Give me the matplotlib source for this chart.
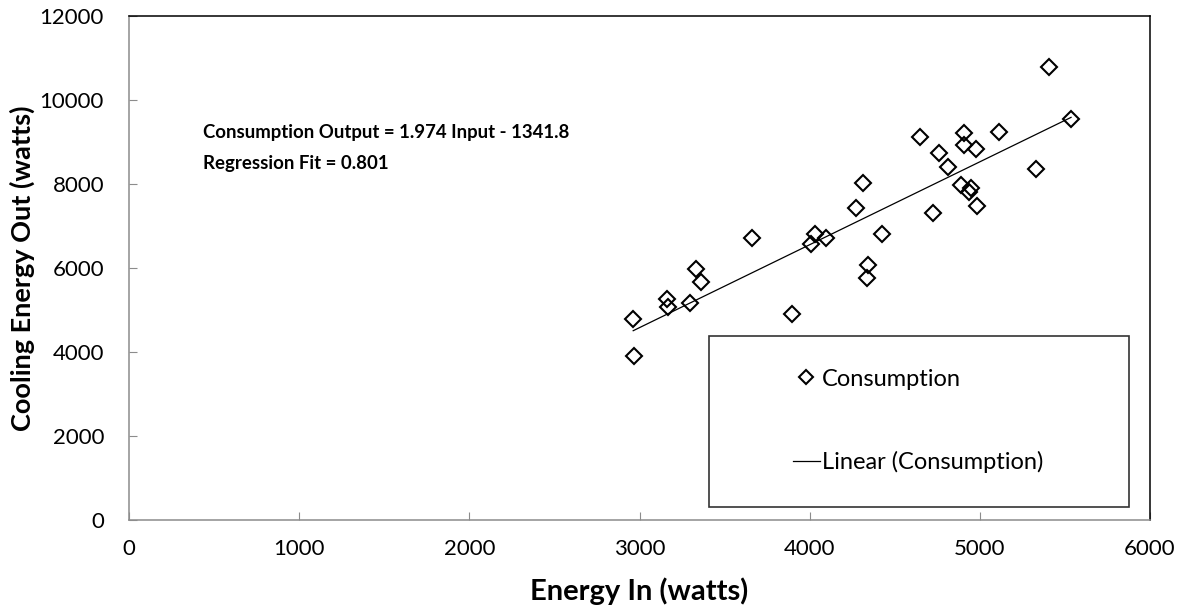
import matplotlib
matplotlib.use("Agg")
import matplotlib.pyplot as plt
from matplotlib.patches import Rectangle

plt.rcParams['font.family'] = ['Lato', 'DejaVu Sans']

# measured energy in / cooling energy out (watts)
energy_in = [2963, 2968, 3163, 3165, 3297, 3332, 3360, 3659, 3894, 4031,
             4006, 4096, 4315, 4272, 4345, 4339, 4425, 5408, 5536, 4648,
             4907, 4909, 4977, 5114, 4762, 4815, 5330, 4887, 4934, 4950,
             4985, 4726]
cooling_out = [4779, 3905, 5255, 5079, 5160, 5976, 5660, 6721, 4898, 6802,
               6564, 6707, 8017, 7436, 6071, 5755, 6802, 10779, 9540, 9126,
               9221, 8929, 8826, 9245, 8731, 8398, 8357, 7976, 7817, 7900,
               7483, 7317]

# linear trendline coefficients
slope = 1.974
intercept = -1341.8
r2 = 0.801

xticks = [0, 1000, 2000, 3000, 4000, 5000, 6000]
yticks = [0, 2000, 4000, 6000, 8000, 10000, 12000]

fig = plt.figure(figsize=(11.77, 6.09), dpi=100)
ax = fig.add_axes([129/1177, 89/609, 1021/1177, 504/609])

ax.plot(energy_in, cooling_out, linestyle='none', marker='D', markersize=8.5,
        markerfacecolor='none', markeredgecolor='black', markeredgewidth=1.5,
        label='Consumption', zorder=3)

x_lo, x_hi = min(energy_in), max(energy_in)
ax.plot([x_lo, x_hi], [slope*x_lo + intercept, slope*x_hi + intercept],
        color='black', linewidth=0.9, label='Linear (Consumption)', zorder=2)

ax.set_xlim(0, 6000)
ax.set_ylim(0, 12000)
ax.set_xticks(xticks)
ax.set_yticks(yticks)
ax.tick_params(direction='in', length=6, color='#8c8c8c', labelsize=16)
ax.tick_params(axis='x', pad=14)
ax.tick_params(axis='y', pad=18)

for side in ['left', 'bottom']:
    ax.spines[side].set_color('#8c8c8c')
    ax.spines[side].set_linewidth(1.1)
for side in ['top', 'right']:
    ax.spines[side].set_color('black')
    ax.spines[side].set_linewidth(1.1)

ax.set_xlabel('Energy In (watts)', fontsize=21, fontweight='bold', labelpad=13)
ax.set_ylabel('Cooling Energy Out (watts)', fontsize=19.5, fontweight='bold', labelpad=3)

ax.text(0.0725, 0.768, f'Consumption Output = {slope} Input - {-intercept}',
        transform=ax.transAxes, fontsize=13.4, fontweight='bold', va='center')
ax.text(0.0725, 0.708, f'Regression Fit = {r2}',
        transform=ax.transAxes, fontsize=13.4, fontweight='bold', va='center')

# legend box
ax.add_patch(Rectangle((0.568, 0.026), 0.411, 0.339, transform=ax.transAxes,
                       facecolor='white', edgecolor='#333333', linewidth=1.2, zorder=4))
leg = ax.legend(loc='center left', bbox_to_anchor=(0.650, 0.1965), frameon=False,
                fontsize=17, borderpad=0, borderaxespad=0, handlelength=1.15,
                handletextpad=0.1, labelspacing=2.6, markerscale=0.8)
leg.set_zorder(5)

fig.savefig('out.png', dpi=100)
